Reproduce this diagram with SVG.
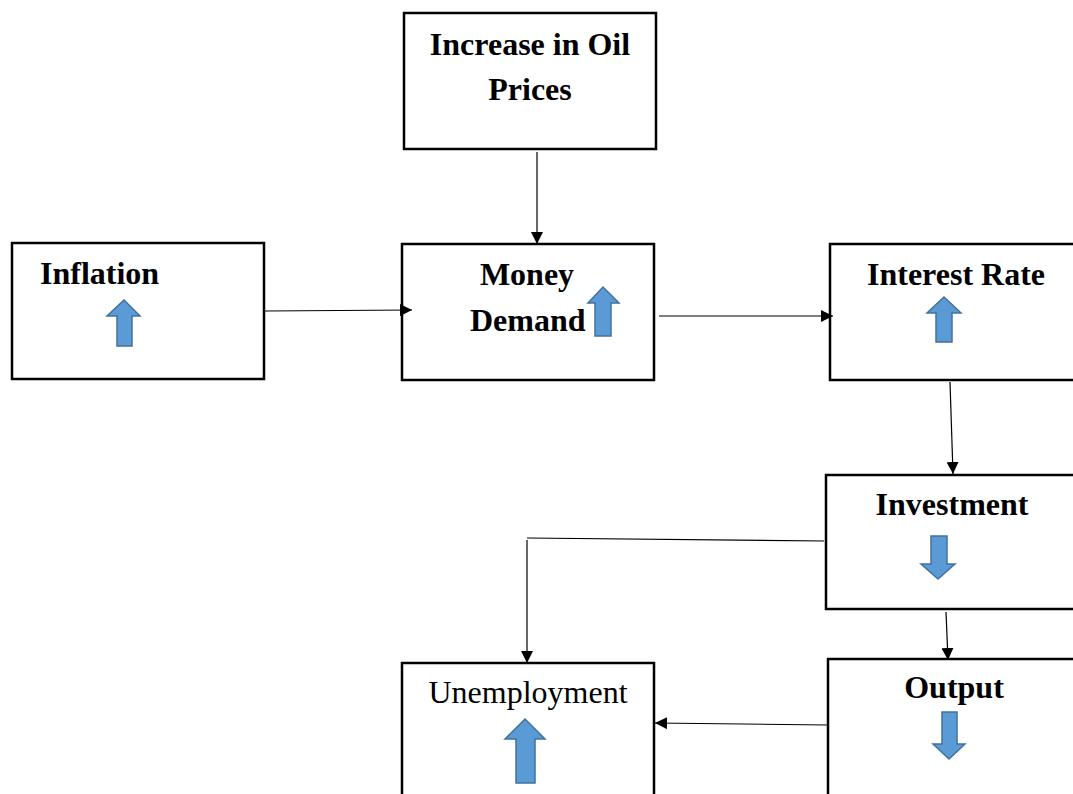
<svg xmlns="http://www.w3.org/2000/svg" width="1073" height="794" viewBox="0 0 1073 794">
<style>
.box{fill:#fff;stroke:#000;stroke-width:2.5}
.t{font-family:"Liberation Serif","Times New Roman",serif;font-size:32px;fill:#000}
.b{font-weight:bold}
.ar{fill:#5B9BD5;stroke:#41719C;stroke-width:1.5}
.c{fill:none;stroke:#000;stroke-width:1.2}
</style>
<defs>
<marker id="ah" viewBox="0 0 10 10" refX="10" refY="5" markerWidth="12" markerHeight="12" markerUnits="userSpaceOnUse" orient="auto">
<path d="M0,0 L10,5 L0,10 Z" fill="#000"/>
</marker>
</defs>
<rect width="1073" height="794" fill="#fff"/>
<g id="oil">
<rect class="box" x="404" y="13" width="252" height="136"/>
<text class="t b" x="530" y="55" text-anchor="middle">Increase in Oil</text>
<text class="t b" x="530" y="100" text-anchor="middle">Prices</text>
</g>
<g id="inflation">
<rect class="box" x="12" y="243" width="252" height="136"/>
<text class="t b" x="40" y="284">Inflation</text>
<path class="ar" d="M117,346 V316 H107 L124,300 L140,316 H132 V346 Z"/>
</g>
<g id="money">
<rect class="box" x="402" y="244" width="252" height="136"/>
<text class="t b" x="527" y="285" text-anchor="middle">Money</text>
<text class="t b" x="470" y="331">Demand</text>
<path class="ar" d="M595,336 V303 H588 L603,287 L619,303 H611 V336 Z"/>
</g>
<g id="interest">
<rect class="box" x="830" y="244" width="260" height="136"/>
<text class="t b" x="956" y="285" text-anchor="middle">Interest Rate</text>
<path class="ar" d="M936,342 V313 H927 L944,297 L961,313 H952 V342 Z"/>
</g>
<g id="investment">
<rect class="box" x="826" y="475" width="260" height="134"/>
<text class="t b" x="952" y="515" text-anchor="middle">Investment</text>
<path class="ar" d="M931,536 V564 H921 L938,579 L955,564 H947 V536 Z"/>
</g>
<g id="output">
<rect class="box" x="828" y="659" width="260" height="150"/>
<text class="t b" x="954" y="698" text-anchor="middle">Output</text>
<path class="ar" d="M942,712 V744 H933 L949,759 L965,744 H957 V712 Z"/>
</g>
<g id="unemployment">
<rect class="box" x="402" y="663" width="252" height="150"/>
<text class="t" x="528" y="703" text-anchor="middle">Unemployment</text>
<path class="ar" d="M516,783 V739 H505 L525,719 L545,739 H535 V783 Z"/>
</g>
<g id="connectors">
<line class="c" x1="537" y1="152" x2="537" y2="244" marker-end="url(#ah)"/>
<line class="c" x1="265" y1="311" x2="412" y2="310" marker-end="url(#ah)"/>
<line class="c" x1="659" y1="316" x2="833" y2="316" marker-end="url(#ah)"/>
<line class="c" x1="950" y1="382" x2="953" y2="474" marker-end="url(#ah)"/>
<polyline class="c" points="824,541 527,538"/>
<line class="c" x1="527" y1="540" x2="527" y2="663" marker-end="url(#ah)"/>
<line class="c" x1="946" y1="612" x2="948" y2="660" marker-end="url(#ah)"/>
<line class="c" x1="828" y1="725" x2="655" y2="723" marker-end="url(#ah)"/>
</g>
</svg>
